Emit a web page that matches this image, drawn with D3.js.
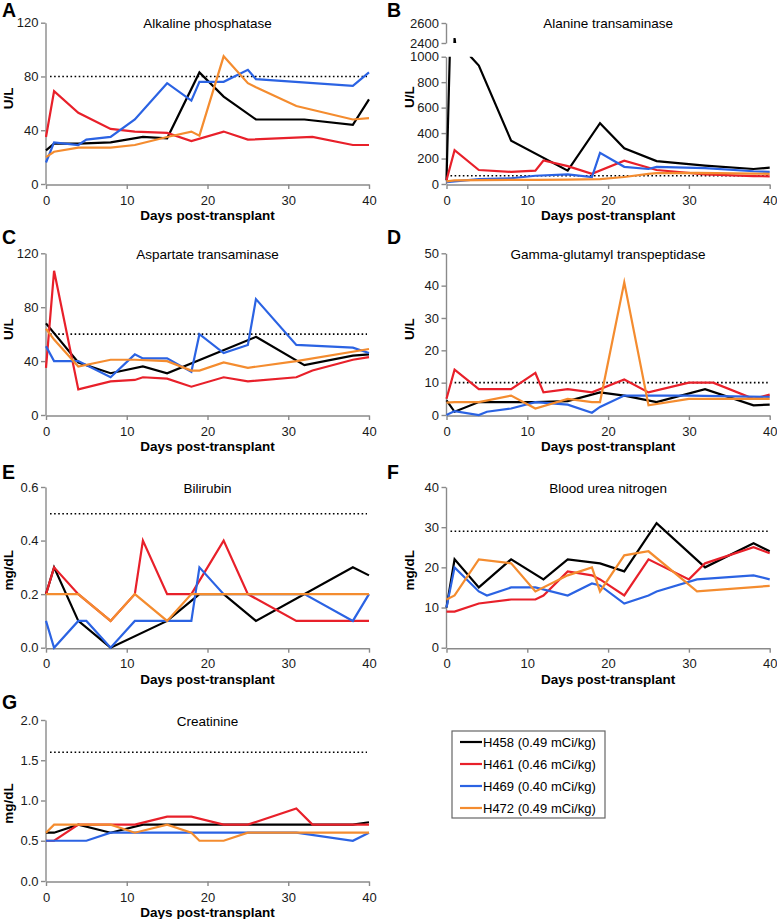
<!DOCTYPE html>
<html><head><meta charset="utf-8">
<script src="https://cdn.jsdelivr.net/npm/d3@7"></script>
<style>
body{margin:0;background:#fff}
svg{display:block}
text{font-family:"Liberation Sans",Arial,Helvetica,sans-serif}
</style>
</head><body><div id="chart"></div>
<script>
// ---------- data ----------
const seriesNames = ["H458 (0.49 mCi/kg)","H461 (0.46 mCi/kg)","H469 (0.40 mCi/kg)","H472 (0.49 mCi/kg)"];
const seriesColors = ["#000000","#e8202a","#2b63e3","#f48c2f"];
const panelLetters = ["A","B","C","D","E","F","G"];
const panelTitles = ["Alkaline phosphatase","Alanine transaminase","Aspartate transaminase","Gamma-glutamyl transpeptidase","Bilirubin","Blood urea nitrogen","Creatinine"];
const panelUnits = ["U/L","U/L","U/L","U/L","mg/dL","mg/dL","mg/dL"];
const xTicks = [0,10,20,30,40];
const yTicksA = [0,40,80,120];
const yTicksB = [0,200,400,600,800,1000];
const yTicksBUpper = [2400,2600];
const yTicksC = [0,40,80,120];
const yTicksD = [0,10,20,30,40,50];
const yTicksE = [0,0.2,0.4,0.6];
const yTicksF = [0,10,20,30,40];
const yTicksG = [0,0.5,1.0,1.5,2.0];
const refLines = [80,65,60,10,0.5,29,1.6];

// A: Alkaline phosphatase  [day, value]
const alpH458 = [[0,25],[1,30],[4,30],[8,31],[12,35],[15,34],[19,83],[22,65],[26,48],[32,48],[38,44],[40,63]];
const alpH461 = [[0,35],[1,69],[4,53],[8,41],[11,39],[15,38],[18,32],[22,39],[25,33],[33,35],[38,29],[40,29]];
const alpH469 = [[0,16],[1,31],[4,29],[5,33],[8,35],[11,48],[15,75],[18,62],[19,76],[22,76],[25,85],[26,78],[38,73],[40,83]];
const alpH472 = [[0,20],[1,24],[4,27],[8,27],[11,29],[15,35],[18,39],[19,36],[22,95],[25,75],[26,72],[31,58],[38,48],[40,49]];
// B: Alanine transaminase
const altH458 = [[0,30],[1,2450],[3,1000],[4,930],[8,340],[15,105],[19,478],[22,280],[26,180],[32,145],[38,118],[40,128]];
const altH461 = [[0,30],[1,265],[4,110],[8,95],[11,105],[12,185],[15,140],[18,80],[22,183],[26,110],[32,75],[38,62],[40,60]];
const altH469 = [[0,15],[1,20],[4,38],[8,45],[11,65],[15,75],[18,55],[19,245],[22,135],[25,118],[26,135],[32,125],[38,100],[40,95]];
const altH472 = [[0,20],[1,28],[4,30],[8,32],[11,33],[15,35],[19,38],[22,55],[25,80],[26,85],[31,88],[38,82],[40,80]];
// C: Aspartate transaminase
const astH458 = [[0,68],[4,39],[8,31],[12,36],[15,31],[26,58],[32,37],[38,44],[40,45]];
const astH461 = [[0,35],[1,107],[4,19],[8,25],[11,26],[12,28],[15,27],[18,21],[22,28],[25,25],[31,28],[33,33],[38,41],[40,43]];
const astH469 = [[0,51],[1,40],[4,40],[8,28],[11,45],[12,42],[15,42],[18,32],[19,60],[22,46],[25,52],[26,86],[31,52],[38,50],[40,46]];
const astH472 = [[0,64],[1,56],[4,36],[8,41],[11,41],[15,40],[18,33],[19,33],[22,39],[25,35],[31,40],[40,49]];
// D: Gamma-glutamyl transpeptidase
const ggtH458 = [[0,4.5],[1,1],[4,4],[8,4],[11,4],[15,4.3],[19,7],[22,6],[26,4],[32,8],[38,3],[40,3.2]];
const ggtH461 = [[0,5],[1,14],[4,8],[8,8],[11,13],[12,7],[15,8],[18,7],[22,11],[25,7],[30,10],[33,10],[38,5],[40,6.3]];
const ggtH469 = [[0,0],[1,1.2],[4,0],[5,1],[8,2],[11,4],[15,3.2],[18,0.7],[19,2.5],[22,6],[25,6],[30,6],[40,5.6]];
const ggtH472 = [[0,3.8],[1,4],[4,4],[8,6],[11,2],[15,5],[18,4],[19,4],[22,41],[25,3],[30,5],[40,5]];
// E: Bilirubin
const bilH458 = [[0,0.2],[1,0.3],[4,0.1],[8,0],[15,0.1],[19,0.2],[22,0.2],[26,0.1],[38,0.3],[40,0.27]];
const bilH461 = [[0,0.2],[1,0.3],[4,0.2],[8,0.1],[11,0.2],[12,0.4],[15,0.2],[18,0.2],[22,0.4],[25,0.2],[31,0.1],[40,0.1]];
const bilH469 = [[0,0.1],[1,0],[4,0.1],[5,0.1],[8,0],[11,0.1],[15,0.1],[18,0.1],[19,0.3],[22,0.2],[32,0.2],[38,0.1],[40,0.2]];
const bilH472 = [[0,0.2],[4,0.2],[8,0.1],[11,0.2],[15,0.1],[18,0.2],[40,0.2]];
// F: Blood urea nitrogen
const bunH458 = [[0,10],[1,22],[4,15],[8,22],[12,17],[15,22],[19,21],[22,19],[26,31],[32,20],[38,26],[40,24]];
const bunH461 = [[0,9],[1,9],[4,11],[8,12],[11,12],[12,13],[15,19],[18,18],[19,17],[22,13],[25,22],[30,17],[32,21],[38,25],[40,23.5]];
const bunH469 = [[0,10],[1,20],[4,14],[5,13],[8,15],[11,15],[15,13],[18,16],[19,15.5],[22,11],[25,13],[26,14],[31,17],[38,18],[40,17]];
const bunH472 = [[0,12],[1,13],[4,22],[8,21],[11,14],[15,18],[18,20],[19,14],[22,23],[25,24],[31,14],[40,15.4]];
// G: Creatinine
const creH458 = [[0,0.6],[1,0.6],[4,0.7],[8,0.6],[12,0.7],[38,0.7],[40,0.73]];
const creH461 = [[0,0.5],[1,0.5],[4,0.7],[11,0.7],[15,0.8],[18,0.8],[22,0.7],[25,0.7],[31,0.9],[33,0.7],[40,0.7]];
const creH469 = [[0,0.5],[5,0.5],[8,0.6],[31,0.6],[38,0.5],[40,0.6]];
const creH472 = [[0,0.6],[1,0.7],[8,0.7],[11,0.6],[15,0.7],[18,0.6],[19,0.5],[22,0.5],[25,0.6],[40,0.6]];

const panelSeries = [
  [alpH458,alpH461,alpH469,alpH472],
  [altH458,altH461,altH469,altH472],
  [astH458,astH461,astH469,astH472],
  [ggtH458,ggtH461,ggtH469,ggtH472],
  [bilH458,bilH461,bilH469,bilH472],
  [bunH458,bunH461,bunH469,bunH472],
  [creH458,creH461,creH469,creH472]
];
const panelTicks = [yTicksA,yTicksB,yTicksC,yTicksD,yTicksE,yTicksF,yTicksG];

// ---------- layout ----------
const W = 777, H = 919;
const colX = [[46,369],[446.5,769.7]];
const rowY = [[22.7,184],[253.3,415],[487,647.7],[720,881]];
const letterBase = [17,244,479,709];
const axisColor = "#8a8a8a";
const textColor = "#1a1a1a";

const svg = d3.select("#chart").append("svg").attr("width",W).attr("height",H);
const defs = svg.append("defs");

function styleAxis(g){
  g.selectAll(".domain").attr("stroke",axisColor).attr("stroke-width",1.4);
  g.selectAll(".tick line").attr("stroke",axisColor).attr("stroke-width",1.4);
  g.selectAll(".tick text").attr("fill",textColor).attr("font-size",13)
    .attr("font-family","'Liberation Sans',Arial,sans-serif");
}

panelTitles.forEach((title,i)=>{
  const col = i%2, row = Math.floor(i/2);
  const [x0,x1] = colX[col];
  const [top,bottom] = rowY[row];
  const g = svg.append("g");
  const x = d3.scaleLinear().domain([0,40]).range([x0,x1]);
  const ticks = panelTicks[i];
  const fmt = (i===4||i===6) ? d3.format(".1f") : d3.format("d");

  // panel letter
  svg.append("text").attr("x", col===0 ? 2 : 387).attr("y", letterBase[row])
    .attr("font-size",19.5).attr("font-weight","bold").attr("fill","#000").text(panelLetters[i]);

  // title
  g.append("text").attr("x",(x0+x1)/2).attr("y",top+5.5).attr("text-anchor","middle")
    .attr("font-size",13.5).attr("fill","#000").text(title);

  let yLower, lowerTop = top;
  const clipId = "clip"+i;
  if(i===1){
    lowerTop = 56.7;
    yLower = d3.scaleLinear().domain([0,1000]).range([bottom,lowerTop]);
    const yUpper = d3.scaleLinear().domain([2400,2600]).range([43,23]);
    const up = g.append("g").attr("transform",`translate(${x0-0.5},0)`)
      .call(d3.axisLeft(yUpper).tickValues(yTicksBUpper).tickFormat(d3.format("d")).tickSize(4.5).tickSizeOuter(0).tickPadding(2.5));
    styleAxis(up);
    defs.append("clipPath").attr("id","clipU").append("rect")
      .attr("x",x0).attr("y",23).attr("width",x1-x0+4).attr("height",20);
    const lineU = d3.line().x(d=>x(d[0])).y(d=>yUpper(d[1]));
    panelSeries[i].forEach((s,k)=>{
      g.append("path").attr("clip-path","url(#clipU)").attr("d",lineU(s)).attr("fill","none")
        .attr("stroke",seriesColors[k]).attr("stroke-width",2.2).attr("stroke-linejoin","miter");
    });
  } else {
    yLower = d3.scaleLinear().domain([ticks[0],ticks[ticks.length-1]]).range([bottom,top]);
  }
  defs.append("clipPath").attr("id",clipId).append("rect")
    .attr("x",x0-2).attr("y",lowerTop).attr("width",x1-x0+6).attr("height",bottom-lowerTop+3);

  // axes
  const ya = g.append("g").attr("transform",`translate(${x0-0.5},0)`)
    .call(d3.axisLeft(yLower).tickValues(i===1?yTicksB:ticks).tickFormat(fmt).tickSize(4.5).tickSizeOuter(0).tickPadding(2.5));
  styleAxis(ya);
  const xa = g.append("g").attr("transform",`translate(0,${bottom+0.5})`)
    .call(d3.axisBottom(x).tickValues(xTicks).tickSize(4.5).tickSizeOuter(0).tickPadding(6.5));
  styleAxis(xa);

  // axis labels
  g.append("text").attr("x",(x0+x1)/2).attr("y",bottom+36).attr("text-anchor","middle")
    .attr("font-size",13.5).attr("font-weight","bold").attr("fill","#000").text("Days post-transplant");
  const yc = i===1 ? 97 : (top+bottom)/2 + (panelUnits[i]==="U/L" ? -5 : 3);
  g.append("text").attr("transform",`translate(${x0-33},${yc}) rotate(-90)`).attr("text-anchor","middle")
    .attr("font-size",13.5).attr("font-weight","bold").attr("fill","#000").text(panelUnits[i]);

  // reference dotted line
  g.append("line").attr("x1",x0+4).attr("x2",x1-2)
    .attr("y1",yLower(refLines[i])).attr("y2",yLower(refLines[i]))
    .attr("stroke","#000").attr("stroke-width",1.6).attr("stroke-dasharray","1.6,2.5");

  // series lines
  const line = d3.line().x(d=>x(d[0])).y(d=>yLower(d[1]));
  panelSeries[i].forEach((s,k)=>{
    g.append("path").attr("clip-path",`url(#${clipId})`).attr("d",line(s)).attr("fill","none")
      .attr("stroke",seriesColors[k]).attr("stroke-width",2.2).attr("stroke-linejoin","miter").attr("stroke-miterlimit",6);
  });
});

// ---------- legend ----------
const lg = svg.append("g");
const lgX = 452, lgY = 731, lgW = 153, rowH = 22;
lg.append("rect").attr("x",lgX).attr("y",lgY).attr("width",lgW).attr("height",rowH*seriesNames.length-1)
  .attr("fill","#fff").attr("stroke","#666").attr("stroke-width",1.2);
seriesNames.forEach((n,k)=>{
  const cy = lgY + 11 + k*rowH;
  lg.append("line").attr("x1",lgX+8).attr("x2",lgX+30).attr("y1",cy).attr("y2",cy)
    .attr("stroke",seriesColors[k]).attr("stroke-width",2.2);
  lg.append("text").attr("x",lgX+31).attr("y",cy+4.6).attr("font-size",13).attr("fill","#000").text(n);
});
</script>
</body></html>
